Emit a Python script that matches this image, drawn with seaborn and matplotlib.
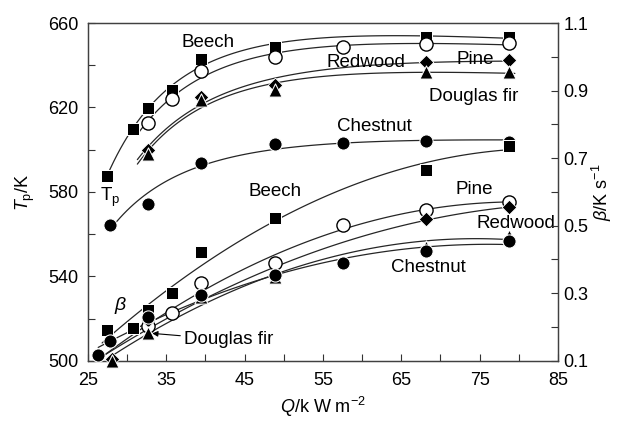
import numpy as np
import matplotlib
matplotlib.use("Agg")
import matplotlib.pyplot as plt
import seaborn as sns

# peak temperature Tp (K) vs heat flux Q (kW m-2)
beech_q = [27.4, 30.8, 32.6, 35.7, 39.4, 48.9, 68.2, 78.8]
beech_tp = [587.6, 609.8, 619.8, 628.3, 643.0, 648.6, 653.4, 653.4]
pine_q = [32.6, 35.7, 39.4, 48.9, 57.6, 68.2, 78.8]
pine_tp = [612.7, 624.0, 637.3, 643.9, 648.6, 650.1, 650.5]
redwood_q = [32.6, 39.4, 48.9, 68.2, 78.8]
redwood_tp = [599.9, 625.0, 630.7, 641.5, 642.5]
douglas_q = [32.6, 39.4, 48.9, 68.2, 78.8]
douglas_tp = [598.0, 623.5, 628.3, 636.8, 636.8]
chestnut_q = [27.8, 32.6, 39.4, 48.9, 57.6, 68.2, 78.8]
chestnut_tp = [564.4, 574.3, 593.7, 602.7, 603.2, 604.1, 603.7]

# heating rate beta (K s-1) vs Q
beech_bq = [27.4, 30.8, 32.6, 35.7, 39.4, 48.9, 68.2, 78.8]
beech_beta = [0.192, 0.198, 0.251, 0.301, 0.422, 0.523, 0.665, 0.736]
pine_bq = [32.6, 35.7, 39.4, 48.9, 57.6, 68.2, 78.8]
pine_beta = [0.204, 0.242, 0.331, 0.390, 0.502, 0.547, 0.570]
redwood_bq = [28.1, 32.6, 39.4, 48.9, 68.2, 78.8]
redwood_beta = [0.106, 0.221, 0.295, 0.354, 0.520, 0.556]
douglas_bq = [28.1, 32.6, 39.4, 48.9, 68.2, 78.8]
douglas_beta = [0.100, 0.183, 0.289, 0.349, 0.437, 0.470]
chestnut_bq = [26.3, 27.8, 32.6, 39.4, 48.9, 57.6, 68.2, 78.8]
chestnut_beta = [0.118, 0.159, 0.230, 0.295, 0.354, 0.390, 0.425, 0.455]

# where each fitted curve starts on the Q axis
tp_start = {"beech": 27.4, "pine": 31.2, "redwood": 31.3, "douglas": 31.3, "chestnut": 27.8}
beta_start = {"beech": 26.8, "pine": 27.0, "redwood": 27.3, "douglas": 28.1, "chestnut": 26.3}

sns.set_style("ticks")
plt.rcParams["font.family"] = ["Liberation Sans", "DejaVu Sans"]
plt.rcParams["mathtext.fontset"] = "custom"
plt.rcParams["mathtext.rm"] = "Liberation Sans"
plt.rcParams["mathtext.it"] = "Liberation Sans:italic"
plt.rcParams["text.color"] = "black"
plt.rcParams["axes.labelcolor"] = "black"
plt.rcParams["xtick.color"] = "black"
plt.rcParams["ytick.color"] = "black"

fig, ax = plt.subplots(figsize=(6.22, 4.23), dpi=100)
fig.subplots_adjust(left=0.1415, right=0.897, bottom=0.147, top=0.9456)
ax2 = ax.twinx()

line_kw = dict(color="0.15", linewidth=0.9, legend=False)
styles = {
    "beech": dict(marker="s", s=80, color="black"),
    "pine": dict(marker="o", s=90, facecolor="white", edgecolor="black", linewidth=1.0),
    "redwood": dict(marker="D", s=55, color="black"),
    "douglas": dict(marker="^", s=90, color="black"),
    "chestnut": dict(marker="o", s=90, color="black"),
}
tp_sets = {
    "beech": (beech_q, beech_tp), "pine": (pine_q, pine_tp),
    "redwood": (redwood_q, redwood_tp), "douglas": (douglas_q, douglas_tp),
    "chestnut": (chestnut_q, chestnut_tp),
}
beta_sets = {
    "beech": (beech_bq, beech_beta), "pine": (pine_bq, pine_beta),
    "redwood": (redwood_bq, redwood_beta), "douglas": (douglas_bq, douglas_beta),
    "chestnut": (chestnut_bq, chestnut_beta),
}

for name, (q, y) in tp_sets.items():
    q = np.array(q)
    # saturating fit: Tp = a + b/Q + c/Q^2
    coef = np.polyfit(1.0 / q, y, 2)
    qq = np.linspace(tp_start[name], 79.5, 120)
    sns.lineplot(x=qq, y=np.polyval(coef, 1.0 / qq), ax=ax, **line_kw)
for name, (q, y) in beta_sets.items():
    coef = np.polyfit(q, y, 2)
    qq = np.linspace(beta_start[name], 79.5, 120)
    sns.lineplot(x=qq, y=np.polyval(coef, qq), ax=ax2, **line_kw)

for name, (q, y) in tp_sets.items():
    sns.scatterplot(x=q, y=y, ax=ax, zorder=3, clip_on=False, legend=False, **styles[name])
for name, (q, y) in beta_sets.items():
    sns.scatterplot(x=q, y=y, ax=ax2, zorder=3, clip_on=False, legend=False, **styles[name])

ax.set_xlim(25, 85)
ax.set_ylim(500, 660)
ax2.set_ylim(0.1, 1.1)
ax.set_xticks(np.arange(25, 86, 10))
ax.set_xticks(np.arange(30, 85, 10), minor=True)
ax.set_yticks(np.arange(500, 661, 40))
ax.set_yticks(np.arange(520, 660, 40), minor=True)
ax2.set_yticks([0.1, 0.3, 0.5, 0.7, 0.9, 1.1])
ax2.set_yticks([0.2, 0.4, 0.6, 0.8, 1.0], minor=True)
ax2.set_yticklabels(["0.1", "0.3", "0.5", "0.7", "0.9", "1.1"])

for a in (ax, ax2):
    a.tick_params(which="both", direction="in", labelsize=13, width=0.8, color="0.2", length=5)
    for sp in a.spines.values():
        sp.set_visible(True)
        sp.set_linewidth(0.9)
        sp.set_color("0.25")
ax.tick_params(axis="y", pad=7)
ax.tick_params(axis="x", pad=8)
ax2.tick_params(axis="y", pad=4)

ax.set_xlabel("$Q$/k W m$^{-2}$", fontsize=13)
ax.set_ylabel("$T_\\mathrm{p}$/K", fontsize=13)
ax2.set_ylabel("$\\beta$/K s$^{-1}$", fontsize=13)
ax.xaxis.set_label_coords(0.5, -0.1)
ax.yaxis.set_label_coords(-0.108, 0.5)
ax2.yaxis.set_label_coords(1.067, 0.5)

txt = dict(fontsize=13.5, ha="center", va="center")
ax.text(40.3, 651, "Beech", **txt)
ax.text(60.5, 641.5, "Redwood", **txt)
ax.text(74.4, 642.5, "Pine", **txt)
ax.text(74.2, 625.4, "Douglas fir", **txt)
ax.text(61.5, 611.2, "Chestnut", **txt)
ax.text(27.8, 577.6, "T$_\\mathrm{p}$", **txt)
ax.text(48.9, 580, "Beech", **txt)
ax.text(74.3, 581, "Pine", **txt)
ax.text(79.7, 564.9, "Redwood", **txt)
ax.text(68.5, 544, "Chestnut", **txt)
ax.text(29.1, 526, "$\\beta$", fontsize=14, ha="center", va="center")
ax.annotate("Douglas fir", xy=(33.2, 513), xytext=(37.2, 510), fontsize=13.5, ha="left", va="center",
            arrowprops=dict(arrowstyle="-|>", color="black", lw=0.8, shrinkA=0, shrinkB=0,
                            mutation_scale=8))

plt.savefig("out.png", dpi=100)
